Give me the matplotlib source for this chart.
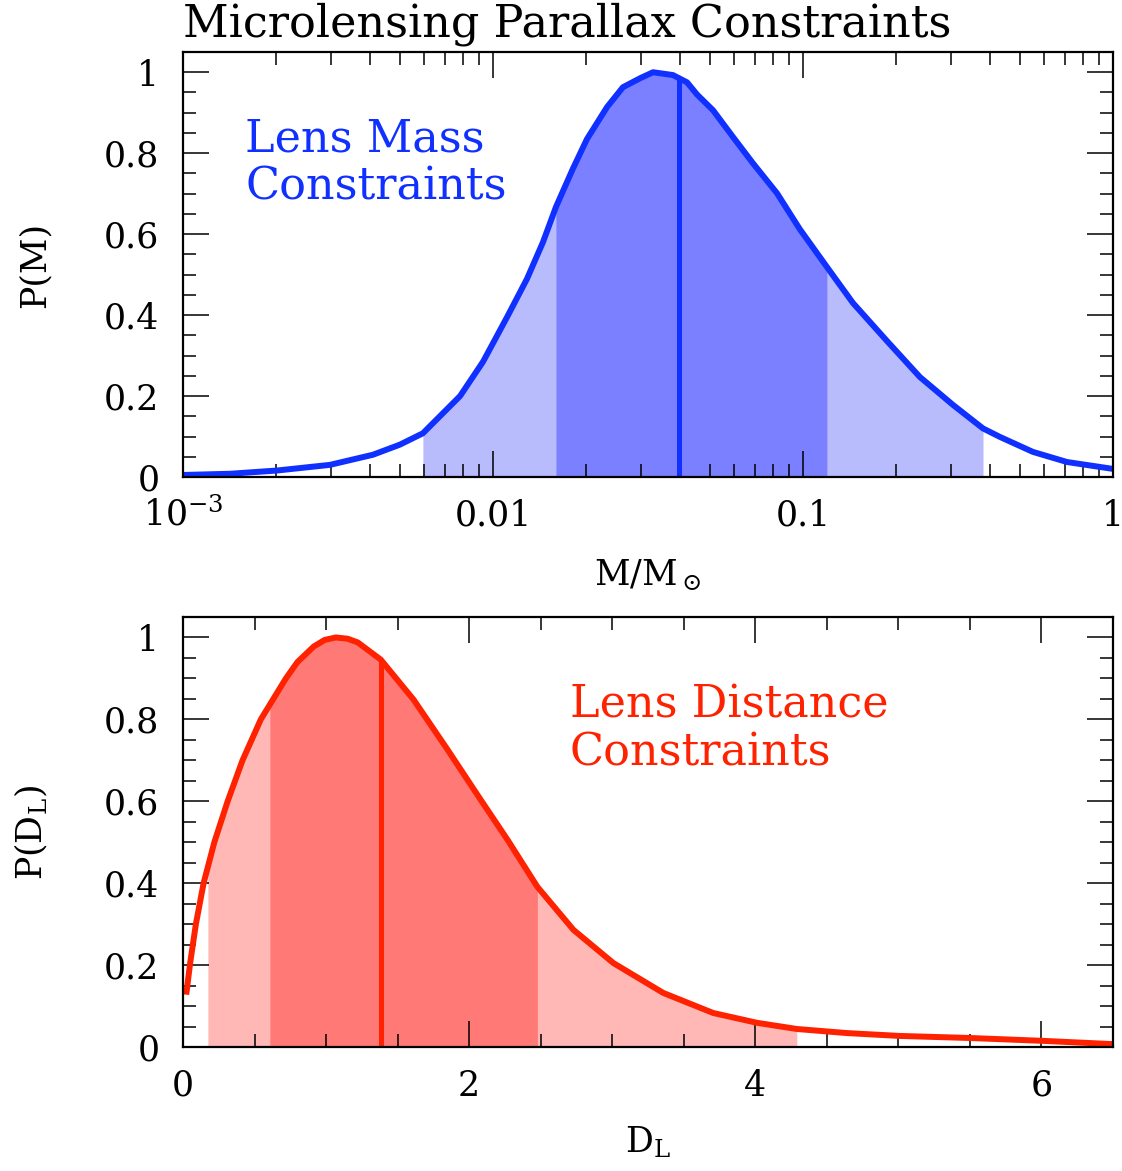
import numpy as np
import matplotlib
matplotlib.use("Agg")
import matplotlib.pyplot as plt
from matplotlib.ticker import FixedLocator, MultipleLocator, LogLocator, NullFormatter

plt.rcParams["font.family"] = "DejaVu Serif"
plt.rcParams["mathtext.fontset"] = "dejavuserif"

# lens mass posterior (M in solar masses)
mass = np.array([0.001, 0.00142, 0.00201, 0.00298, 0.00410, 0.00501, 0.00594,
                 0.00783, 0.00929, 0.0111, 0.01288, 0.01449, 0.01596, 0.01811,
                 0.0201, 0.02333, 0.02625, 0.02979, 0.03282, 0.03808, 0.04227,
                 0.04552, 0.05128, 0.05946, 0.06898, 0.08245, 0.09772, 0.1194,
                 0.1449, 0.1866, 0.2383, 0.3048, 0.3808, 0.4318, 0.5517,
                 0.7108, 1.0])
p_mass = np.array([0.005, 0.008, 0.016, 0.030, 0.055, 0.080, 0.108,
                   0.200, 0.285, 0.395, 0.490, 0.580, 0.667, 0.762,
                   0.835, 0.914, 0.963, 0.985, 1.000, 0.993, 0.975,
                   0.945, 0.906, 0.840, 0.775, 0.701, 0.612, 0.519,
                   0.430, 0.336, 0.247, 0.178, 0.120, 0.099, 0.062,
                   0.037, 0.020])
mass_1sig = (0.01596, 0.1194)
mass_2sig = (0.00594, 0.3808)
mass_median = 0.0398

# lens distance posterior (kpc)
dist = np.array([0.025, 0.05, 0.09, 0.144, 0.174, 0.219, 0.312, 0.416, 0.544,
                 0.607, 0.719, 0.80, 0.914, 0.99, 1.068, 1.15, 1.221, 1.382,
                 1.612, 1.849, 2.080, 2.268, 2.477, 2.729, 3.008, 3.357, 3.706,
                 4.013, 4.29, 4.64, 5.01, 5.50, 6.01, 6.5])
p_dist = np.array([0.135, 0.205, 0.300, 0.400, 0.440, 0.500, 0.600, 0.700, 0.800,
                   0.836, 0.900, 0.940, 0.978, 0.994, 1.000, 0.997, 0.988, 0.946,
                   0.848, 0.726, 0.604, 0.506, 0.391, 0.286, 0.205, 0.132, 0.083,
                   0.059, 0.044, 0.034, 0.027, 0.022, 0.015, 0.007])
dist_1sig = (0.607, 2.477)
dist_2sig = (0.174, 4.29)
dist_median = 1.382

blue, blue_dark, blue_light = "#1030ff", "#7a80ff", "#b8bcfc"
red, red_dark, red_light = "#ff2200", "#ff7a76", "#ffb8b6"

W, H = 1122, 1171
fig = plt.figure(figsize=(W / 100, H / 100), dpi=100)
ax1 = fig.add_axes([183 / W, 1 - 477 / H, 930 / W, 425 / H])
ax2 = fig.add_axes([183 / W, 1 - 1047 / H, 930 / W, 430 / H])

TICK_FS = 25
NOTE_FS = 32


def band(ax, x, y, lo, hi, color):
    sel = (x >= lo) & (x <= hi)
    ax.fill_between(x[sel], y[sel], 0, color=color, lw=0, zorder=1)


def style(ax):
    for s in ax.spines.values():
        s.set_linewidth(1.6)
        s.set_zorder(5)
    ax.tick_params(which="both", direction="in", top=True, right=True,
                   width=1.1, labelsize=TICK_FS)
    ax.tick_params(which="major", length=18.7)
    ax.tick_params(which="minor", length=9.4)
    ax.tick_params(axis="x", pad=35)
    ax.tick_params(axis="y", pad=17)
    ax.set_ylim(0, 1.05)
    ax.yaxis.set_major_locator(FixedLocator([0, 0.2, 0.4, 0.6, 0.8, 1.0]))
    ax.set_yticklabels(["0", "0.2", "0.4", "0.6", "0.8", "1"])
    ax.yaxis.set_minor_locator(MultipleLocator(0.05))


# top panel: mass
band(ax1, mass, p_mass, *mass_2sig, blue_light)
band(ax1, mass, p_mass, *mass_1sig, blue_dark)
med_top = np.interp(np.log10(mass_median), np.log10(mass), p_mass)
ax1.plot([mass_median, mass_median], [0, med_top], color=blue, lw=3.6,
         solid_capstyle="butt", zorder=2)
ax1.plot(mass, p_mass, color=blue, lw=4.3, zorder=3, solid_joinstyle="round")
ax1.set_xscale("log")
ax1.set_xlim(1e-3, 1)
style(ax1)
ax1.xaxis.set_major_locator(FixedLocator([1e-3, 1e-2, 1e-1, 1]))
ax1.set_xticklabels([r"10$^{-3}$", "0.01", "0.1", "1"])
ax1.xaxis.set_minor_locator(LogLocator(base=10, subs=np.arange(2, 10)))
ax1.xaxis.set_minor_formatter(NullFormatter())
plt.setp(ax1.get_xticklabels(), va="baseline")
ax1.set_xlabel(r"M/M$_\odot$", fontsize=TICK_FS)
ax1.xaxis.set_label_coords(0.5, -0.19)
ax1.set_ylabel("P(M)", fontsize=TICK_FS, va="center")
ax1.yaxis.set_label_coords(-0.160, 0.5)
# multi-line text: baseline refers to the last line
ax1.text((245 - 183) / 930, 1 - (200 - 52) / 425, "Lens Mass\nConstraints",
         transform=ax1.transAxes, color=blue, fontsize=NOTE_FS, va="baseline",
         linespacing=1.15)

# bottom panel: distance
band(ax2, dist, p_dist, *dist_2sig, red_light)
band(ax2, dist, p_dist, *dist_1sig, red_dark)
med_bot = np.interp(dist_median, dist, p_dist)
ax2.plot([dist_median, dist_median], [0, med_bot], color=red, lw=3.6,
         solid_capstyle="butt", zorder=2)
ax2.plot(dist, p_dist, color=red, lw=4.3, zorder=3, solid_joinstyle="round")
ax2.set_xlim(0, 6.5)
style(ax2)
ax2.xaxis.set_major_locator(FixedLocator([0, 2, 4, 6]))
ax2.set_xticklabels(["0", "2", "4", "6"])
ax2.xaxis.set_minor_locator(MultipleLocator(0.5))
plt.setp(ax2.get_xticklabels(), va="baseline")
ax2.set_xlabel(r"D$_{\rm L}$", fontsize=TICK_FS)
ax2.xaxis.set_label_coords(0.5, -0.18)
ax2.set_ylabel(r"P(D$_{\rm L}$)", fontsize=TICK_FS, va="center")
ax2.yaxis.set_label_coords(-0.163, 0.5)
ax2.text((570 - 183) / 930, 1 - (766 - 617) / 430, "Lens Distance\nConstraints",
         transform=ax2.transAxes, color=red, fontsize=NOTE_FS, va="baseline",
         linespacing=1.15)

fig.text(183 / W, 1 - 37 / H, "Microlensing Parallax Constraints",
         fontsize=NOTE_FS, va="baseline", ha="left")

fig.savefig("out.png", dpi=100)
